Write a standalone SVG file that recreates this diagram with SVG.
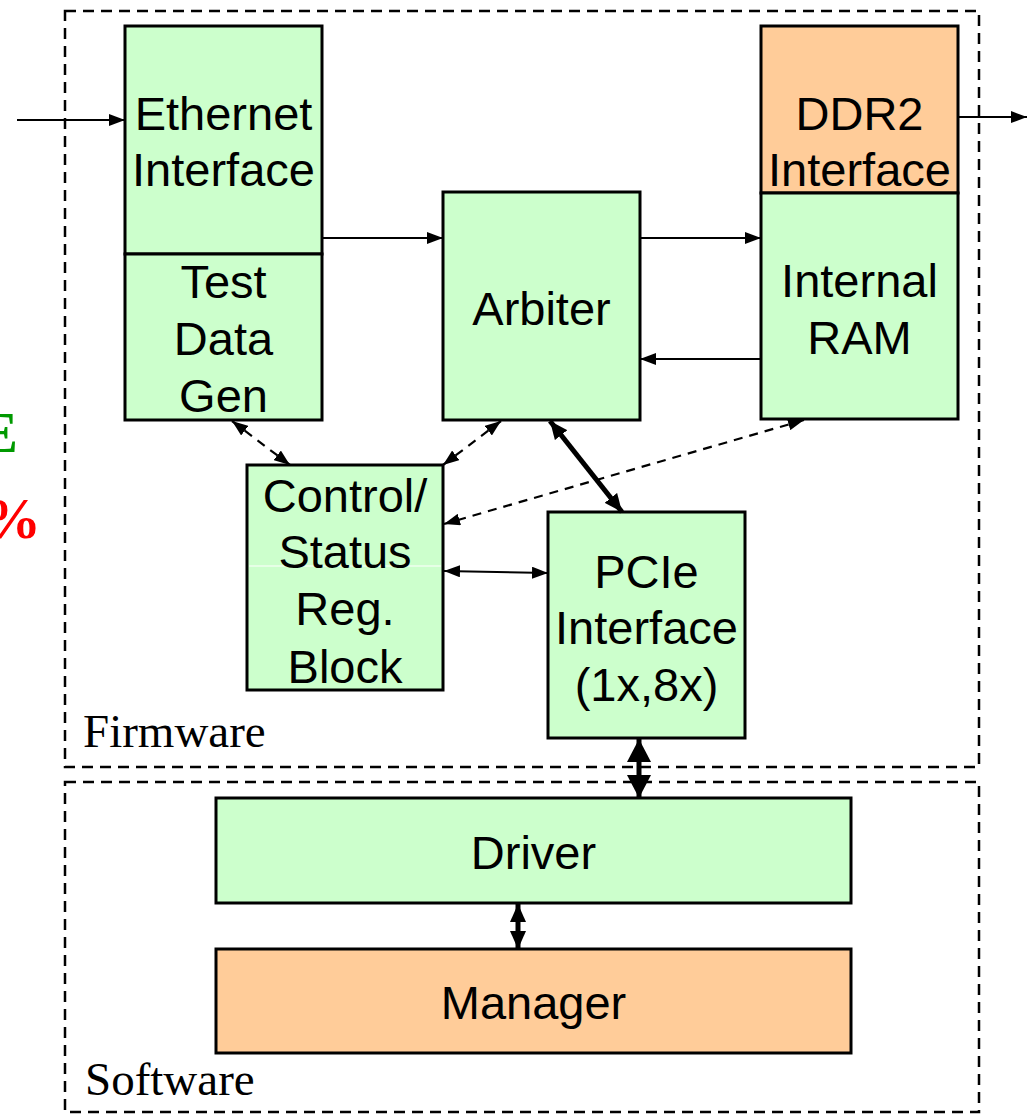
<svg xmlns="http://www.w3.org/2000/svg" width="1030" height="1115" viewBox="0 0 1030 1115">
<style>
.box{stroke:#000;stroke-width:3}
.g{fill:#CCFFCC}
.o{fill:#FFCC99}
.lbl{font-family:"Liberation Sans",Arial,sans-serif;font-size:47px;text-anchor:middle;fill:#000}
.sec{font-family:"Liberation Serif","Times New Roman",serif;font-size:47px;fill:#000}
.frame{fill:none;stroke:#000;stroke-width:2.5;stroke-dasharray:11,7}
.c{fill:none;stroke:#000;stroke-width:2.2}
.d{fill:none;stroke:#000;stroke-width:2.2;stroke-dasharray:9,7}
.t{fill:none;stroke:#000;stroke-width:5}
</style>
<defs>
<marker id="a" markerUnits="userSpaceOnUse" markerWidth="16" markerHeight="12" refX="16" refY="6" orient="auto-start-reverse">
<path d="M0,0 L16,6 L0,12 z" fill="#000"/>
</marker>
<marker id="b" markerUnits="userSpaceOnUse" markerWidth="18" markerHeight="16" refX="18" refY="8" orient="auto-start-reverse">
<path d="M0,0 L18,8 L0,16 z" fill="#000"/>
</marker>
<marker id="c" markerUnits="userSpaceOnUse" markerWidth="23" markerHeight="24" refX="23" refY="12" orient="auto-start-reverse">
<path d="M0,0 L23,12 L0,24 z" fill="#000"/>
</marker>
</defs>

<text x="18" y="452" font-family="'Liberation Serif',serif" font-weight="bold" font-size="58" fill="#009900" text-anchor="end">E</text>
<text x="41" y="538" font-family="'Liberation Serif',serif" font-weight="bold" font-size="58" fill="#FF0000" text-anchor="end">%</text>

<g id="firmware">
<rect class="frame" x="65" y="11" width="914" height="756"/>
<text class="sec" x="83" y="747">Firmware</text>
</g>
<g id="software">
<rect class="frame" x="65" y="782" width="914" height="330"/>
<text class="sec" x="85" y="1095">Software</text>
</g>

<g id="ethernet">
<rect class="box g" x="125" y="26" width="197" height="228"/>
<text class="lbl" x="223.5" y="130">Ethernet</text>
<text class="lbl" x="223.5" y="186">Interface</text>
</g>
<g id="testdatagen">
<rect class="box g" x="125" y="254" width="197" height="166"/>
<text class="lbl" x="223.5" y="298">Test</text>
<text class="lbl" x="223.5" y="355">Data</text>
<text class="lbl" x="223.5" y="412">Gen</text>
</g>
<g id="arbiter">
<rect class="box g" x="443" y="192" width="197" height="228"/>
<text class="lbl" x="541.5" y="325">Arbiter</text>
</g>
<g id="ddr2">
<rect class="box o" x="761" y="26" width="197" height="167"/>
<text class="lbl" x="859.5" y="130">DDR2</text>
<text class="lbl" x="859.5" y="186">Interface</text>
</g>
<g id="ram">
<rect class="box g" x="761" y="193" width="197" height="226"/>
<text class="lbl" x="859.5" y="297">Internal</text>
<text class="lbl" x="859.5" y="354">RAM</text>
</g>
<g id="control">
<rect class="box g" x="247" y="465" width="196" height="225"/>
<line x1="249" y1="566" x2="441" y2="566" stroke="#fff" stroke-width="1.2"/>
<text class="lbl" x="345" y="512">Control/</text>
<text class="lbl" x="345" y="568">Status</text>
<text class="lbl" x="345" y="625">Reg.</text>
<text class="lbl" x="345" y="683">Block</text>
</g>
<g id="pcie">
<rect class="box g" x="548" y="512" width="197" height="226"/>
<text class="lbl" x="646.5" y="588">PCIe</text>
<text class="lbl" x="646.5" y="644">Interface</text>
<text class="lbl" x="646.5" y="701">(1x,8x)</text>
</g>
<g id="driver">
<rect class="box g" x="216" y="798" width="635" height="105"/>
<text class="lbl" x="533.5" y="869">Driver</text>
</g>
<g id="manager">
<rect class="box o" x="216" y="949" width="635" height="104"/>
<text class="lbl" x="533.5" y="1019">Manager</text>
</g>

<g id="connectors">
<line class="c" x1="17" y1="120" x2="125" y2="120" marker-end="url(#a)"/>
<line class="c" x1="958" y1="117" x2="1027" y2="117" marker-end="url(#a)"/>
<line class="c" x1="322" y1="238" x2="443" y2="238" marker-end="url(#a)"/>
<line class="c" x1="640" y1="238" x2="761" y2="238" marker-end="url(#a)"/>
<line class="c" x1="761" y1="359" x2="640" y2="359" marker-end="url(#a)"/>
<line class="d" x1="232" y1="421" x2="290" y2="465" marker-start="url(#a)" marker-end="url(#a)"/>
<line class="d" x1="501" y1="421" x2="443" y2="465" marker-start="url(#a)" marker-end="url(#a)"/>
<line class="d" x1="804" y1="420" x2="444" y2="524" marker-start="url(#a)" marker-end="url(#a)"/>
<line class="t" x1="550" y1="421" x2="622" y2="512" marker-start="url(#b)" marker-end="url(#b)"/>
<line class="c" x1="444" y1="571" x2="548" y2="573" marker-start="url(#a)" marker-end="url(#a)"/>
<line class="t" x1="639" y1="739" x2="639" y2="798" stroke-width="6" marker-start="url(#c)" marker-end="url(#c)"/>
<line class="t" x1="518" y1="904" x2="518" y2="949" marker-start="url(#b)" marker-end="url(#b)"/>
</g>
</svg>
